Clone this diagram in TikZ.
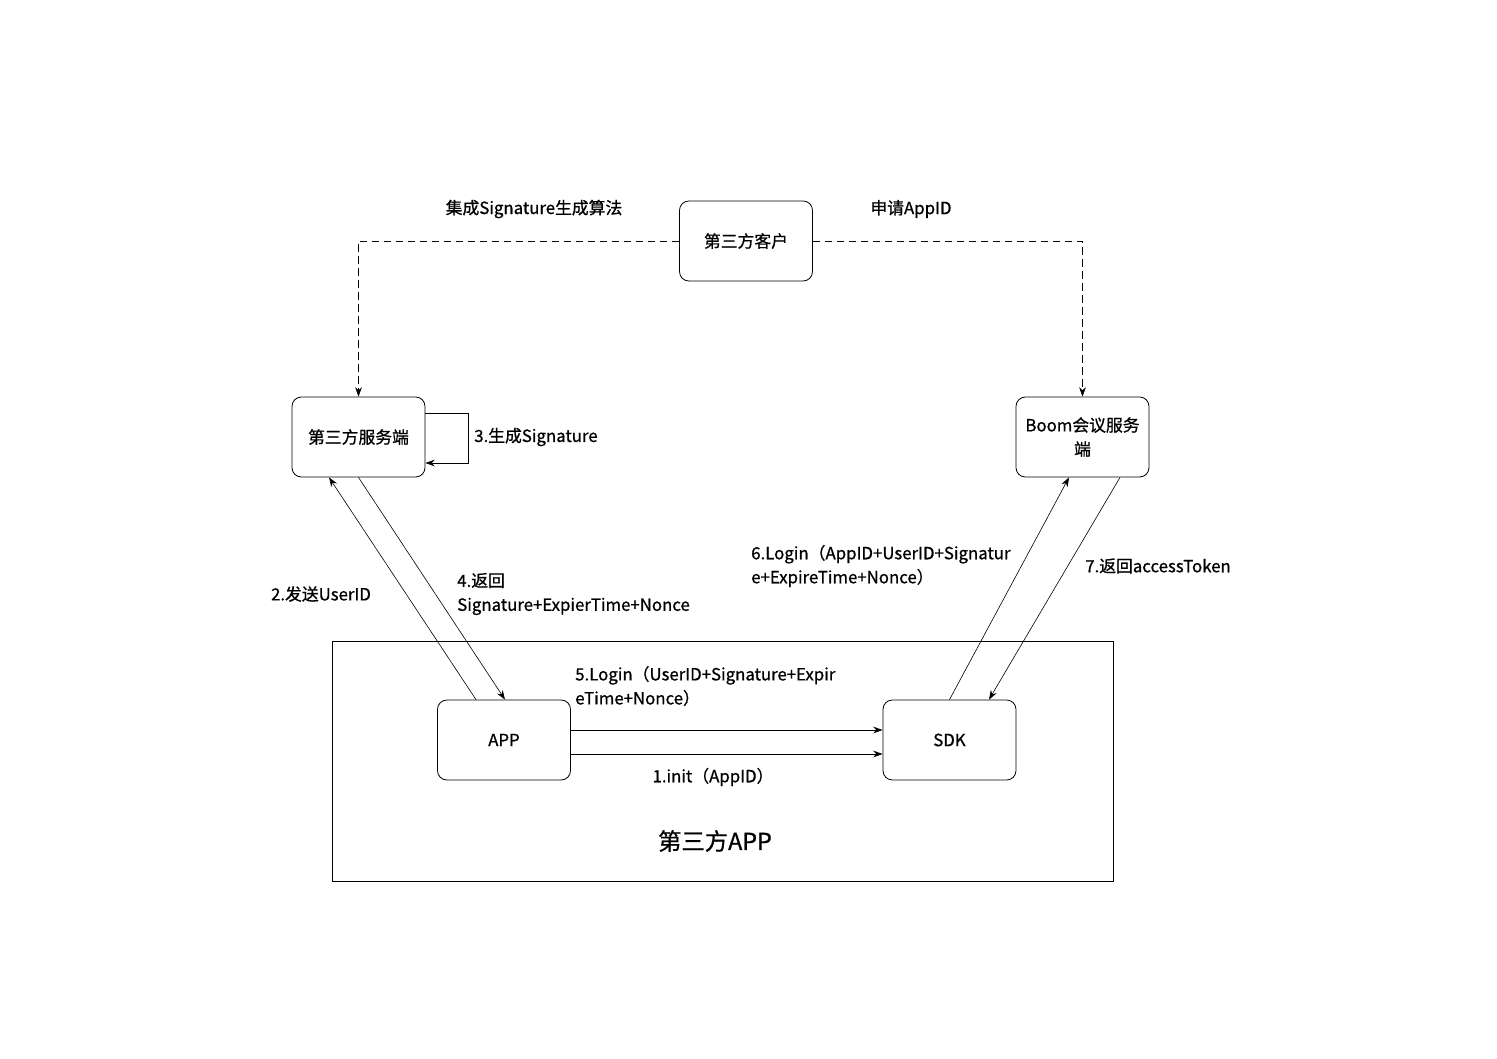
\documentclass[tikz,border=0pt]{standalone}
\usepackage{fontspec}
\setmainfont{Noto Sans CJK SC}[FakeBold=0.8]
\usetikzlibrary{arrows.meta,calc}

\begin{document}
\begin{tikzpicture}[x=0.75pt,y=-0.75pt,
    box/.style={draw,line width=0.6pt,rounded corners=7pt,minimum width=99.75pt,
      minimum height=60pt,font=\fontsize{12.6}{18}\selectfont,align=center},
    lbl/.style={font=\fontsize{12.6}{18}\selectfont,align=left,inner sep=0pt},
    conn/.style={-{Stealth[length=7pt,width=5pt]},line width=0.45pt},
    dashconn/.style={conn,dash pattern=on 5.5pt off 3.5pt}]
  \useasboundingbox (0,0) rectangle (1497,1058);
  % frame of the third-party app
  \node[draw,line width=0.6pt,minimum width=585.75pt,minimum height=180pt,inner sep=0pt]
    (frame) at (722.5,761) {};
  \node[font=\fontsize{17.5}{20}\selectfont] (framelbl) at (715,841) {第三方APP};
  % boxes
  \node[box] (cust) at (746,241) {第三方客户};
  \node[box] (srv) at (358.5,437) {第三方服务端};
  \node[box] (boom) at (1082.5,437) {Boom会议服务\\端};
  \node[box] (app) at (504,740) {APP};
  \node[box] (sdk) at (949.5,740) {SDK};
  % connectors
  \draw[dashconn] (cust.west) -| (srv.north);
  \draw[dashconn] (cust.east) -| (boom.north);
  \draw[conn] ($(srv.east)+(0,-24)$) -- ++(43,0) |- ($(srv.east)+(0,26)$);
  \draw[conn] ($(app.north)+(-28,0)$) -- ($(srv.south)+(-29.5,0)$);
  \draw[conn] (srv.south) -- ($(app.north)+(1,0)$);
  \draw[conn] (sdk.north) -- ($(boom.south)+(-13.5,0)$);
  \draw[conn] ($(boom.south)+(37.5,0)$) -- ($(sdk.north)+(39.5,0)$);
  \draw[conn] ($(app.east)+(0,-10)$) -- ($(sdk.west)+(0,-10)$);
  \draw[conn] ($(app.east)+(0,14)$) -- ($(sdk.west)+(0,14)$);
  % labels
  \node[lbl] (l0a) at (534,209) {集成Signature生成算法};
  \node[lbl] (l0b) at (911,209) {申请AppID};
  \node[lbl,anchor=west] (l3) at (474,437) {3.生成Signature};
  \node[lbl] (l2) at (321,594) {2.发送UserID};
  \node[lbl,anchor=west] (l4) at (457,594) {4.返回\\Signature+ExpierTime+Nonce};
  \node[lbl,anchor=west] (l6) at (751,566) {6.Login（AppID+UserID+Signatur\\e+ExpireTime+Nonce）};
  \node[lbl,anchor=west] (l7) at (1085,566) {7.返回accessToken};
  \node[lbl,anchor=west] (l5) at (575,686) {5.Login（UserID+Signature+Expir\\eTime+Nonce）};
  \node[lbl] (l1) at (713,777) {1.init（AppID）};
\end{tikzpicture}
\end{document}
